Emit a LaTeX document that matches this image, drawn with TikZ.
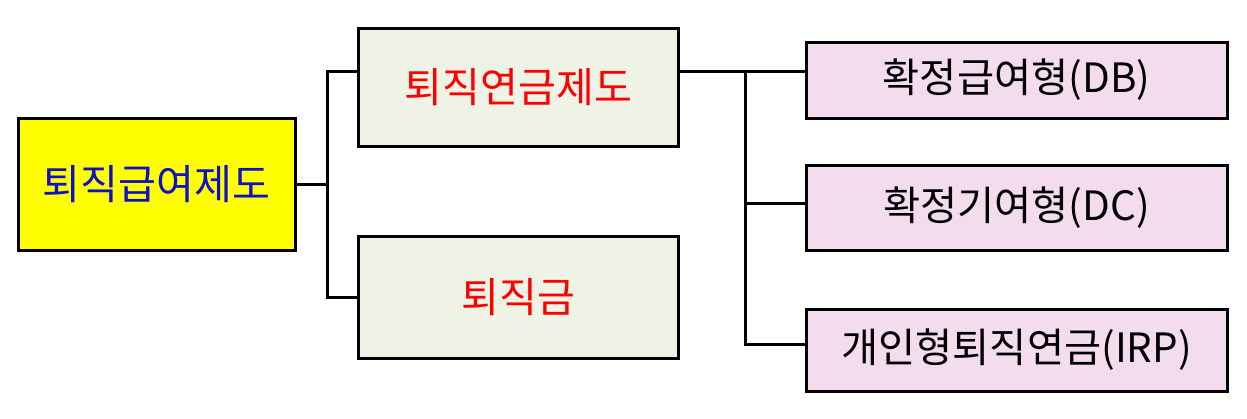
\documentclass[tikz,border=0pt]{standalone}
\usepackage{fontspec}
\setmainfont{Noto Sans CJK KR}
\usepackage{tikz}
\usetikzlibrary{positioning}
\definecolor{rootfill}{RGB}{255,255,0}
\definecolor{subfill}{RGB}{238,243,229}
\definecolor{leaffill}{RGB}{242,220,237}
\definecolor{roottext}{RGB}{16,16,200}
\definecolor{subtext}{RGB}{255,0,0}

\begin{document}
\begin{tikzpicture}[x=0.5pt,y=-0.5pt,line width=1.5pt,
  rootbox/.style={draw=black, fill=rootfill, text=roottext, minimum width=138.5pt, minimum height=66pt, inner sep=0pt, font=\fontsize{20.6}{24}\selectfont},
  subbox/.style={draw=black, fill=subfill, text=subtext, minimum width=160pt, inner sep=0pt, font=\fontsize{20.6}{24}\selectfont},
  leafbox/.style={draw=black, fill=leaffill, text=black, minimum width=210.5pt, inner sep=0pt, font=\fontsize{20.2}{24}\selectfont}]
\useasboundingbox (0,0) rectangle (1247,418);
\node (root) at (156.5,184) [rootbox] {퇴직급여제도};
\node (pension) at (518.5,87) [subbox, minimum height=59pt] {퇴직연금제도};
\node (severance) at (518.5,297.5) [subbox, minimum height=61pt] {퇴직금};
\node (db) at (1016.5,80) [leafbox, minimum height=38pt] {확정급여형(DB)};
\node (dc) at (1016.5,207.5) [leafbox, minimum height=42.5pt] {확정기여형(DC)};
\node (irp) at (1016.5,350) [leafbox, minimum height=41pt] {개인형퇴직연금(IRP)};
\coordinate (j1) at (327,184);
\coordinate (j2) at (745,71);
\draw (root.east) -- (j1);
\draw (j1) |- ([yshift=8pt]pension.west);
\draw (j1) |- (severance.west);
\draw ([yshift=8pt]pension.east) -- (j2) -- ([yshift=4.5pt]db.west);
\draw (j2) |- ([yshift=2.25pt]dc.west);
\draw (j2) |- ([yshift=3pt]irp.west);

\end{tikzpicture}
\end{document}
